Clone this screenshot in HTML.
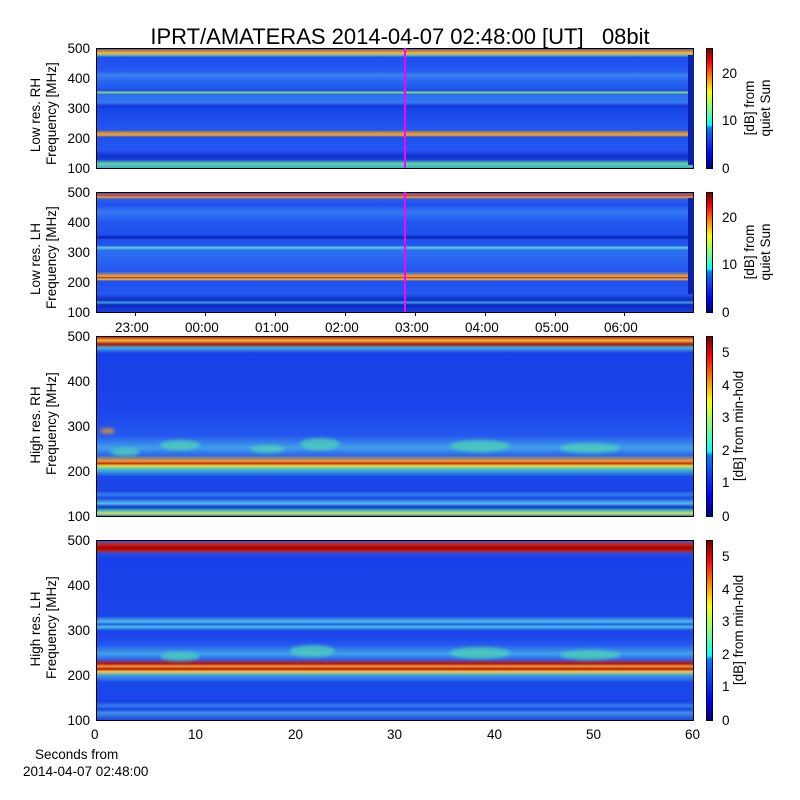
<!DOCTYPE html>
<html><head><meta charset="utf-8"><style>
body{margin:0;width:800px;height:800px;background:#fff;position:relative;font-family:"Liberation Sans","DejaVu Sans",sans-serif;overflow:hidden}
.a{position:absolute}
.p{position:absolute;left:96px;width:598px;border:1px solid #000;box-sizing:border-box}
.cb{position:absolute;left:706px;width:7px;border:1px solid #000;box-sizing:border-box;background:linear-gradient(to top,#00007f,#0000ff 11%,#007fff 34%,#00ffff 36%,#7fff7f 50%,#ffff00 64%,#ff7f00 77%,#ff0000 89%,#7f0000)}
.t{position:absolute;font-size:13.5px;color:#000;line-height:15px}
.y{position:absolute;font-size:13.5px;left:40px;width:50px;text-align:right;line-height:15px}
.yl{position:absolute;font-size:13.5px;transform:rotate(-90deg);transform-origin:center;text-align:center;white-space:nowrap;line-height:16px}
.tk{position:absolute;background:#000}
.blob{position:absolute;border-radius:50%;background:#50d8b0;opacity:.7;filter:blur(1.5px)}
</style></head><body>
<div class="a" style="left:0;width:800px;top:24px;text-align:center;font-size:22px;">IPRT/AMATERAS 2014-04-07 02:48:00 [UT] &nbsp; 08bit</div>

<!-- panel 1 -->
<div class="p" style="top:48px;height:121px;background:linear-gradient(to bottom,#2a60f0 0%,#f08a20 2%,#e8c030 4%,#40b0e0 5.5%,#2050f0 7%,#2458f0 18%,#3a80f2 22%,#2a66f0 27%,#1e50ee 35%,#90e060 36.5%,#2a70f2 38%,#3478f2 45%,#1038d8 48%,#1a48ec 52%,#2356f0 68%,#f09a20 71%,#e0a030 72.5%,#1e50ee 74%,#2458f0 85%,#1030d0 90%,#1a40e0 93%,#60d0a0 96%,#40b0d0 100%)"></div>
<div class="a" style="left:688px;top:55px;width:6px;height:110px;background:#0a20a8"></div>
<div class="a" style="left:404px;top:48px;width:2px;height:120px;background:#ff00ff"></div>
<!-- panel 2 -->
<div class="p" style="top:192px;height:121px;background:linear-gradient(to bottom,#3070f0 0%,#e04020 2%,#e0a030 3.5%,#2a60f0 5%,#2050f0 10%,#3478f2 16%,#2458f0 24%,#1e50ee 35%,#0820b0 37.5%,#2050f0 39%,#2254f0 44%,#60d0d0 46%,#2a70f2 48%,#2a66f0 55%,#2456f0 66%,#e8b030 70%,#e02020 71%,#e0c040 72.5%,#2050f0 74%,#2458f0 85%,#0a28c0 90%,#40a0e0 92%,#0a28c0 94%,#1a40e0 100%)"></div>
<div class="a" style="left:688px;top:198px;width:6px;height:96px;background:#0a20a8"></div>
<div class="a" style="left:404px;top:192px;width:2px;height:120px;background:#ff00ff"></div>
<!-- panel 3 -->
<div class="p" style="top:336px;height:181px;background:linear-gradient(to bottom,#c02010 0%,#f0c030 2%,#b01010 4%,#40b0e0 6%,#1840e8 9%,#1a44ea 40%,#2458f0 55%,#40a0e8 62%,#2a66f0 66%,#f0a020 69.5%,#d02010 70.5%,#e0e040 72%,#40c0d0 74%,#1a48ea 78%,#1a44ea 86%,#3080e8 88%,#1a44ea 90%,#50c0e0 93%,#1030d0 95%,#40c0c0 97%,#e0e040 98.5%,#3080e8 100%)"></div>
<div class="blob" style="left:110px;top:448px;width:30px;height:8px"></div>
<div class="blob" style="left:160px;top:440px;width:40px;height:10px"></div>
<div class="blob" style="left:250px;top:445px;width:35px;height:8px"></div>
<div class="blob" style="left:300px;top:438px;width:40px;height:12px"></div>
<div class="blob" style="left:450px;top:440px;width:60px;height:12px"></div>
<div class="blob" style="left:560px;top:443px;width:60px;height:10px"></div>
<div class="blob" style="left:100px;top:428px;width:15px;height:6px;background:#f0a020"></div>
<!-- panel 4 -->
<div class="p" style="top:540px;height:181px;background:linear-gradient(to bottom,#2a60f0 0%,#d02010 2%,#a00000 4%,#c02010 5.5%,#2050f0 7%,#1840e8 10%,#1a44ea 42%,#50c0e0 45%,#2060f0 46.5%,#50c0e0 48%,#1a48ea 50%,#1a44ea 53%,#2458f0 58%,#40a0e8 63%,#2a66f0 66%,#c01010 68.5%,#e0a030 70%,#c01010 71.5%,#f0d040 73%,#40a0e0 75%,#1a48ea 79%,#1a44ea 90%,#3080e8 92%,#1a44ea 94%,#4090e0 96%,#1a44ea 100%)"></div>
<div class="blob" style="left:160px;top:652px;width:40px;height:9px"></div>
<div class="blob" style="left:290px;top:645px;width:45px;height:12px"></div>
<div class="blob" style="left:450px;top:647px;width:60px;height:12px"></div>
<div class="blob" style="left:560px;top:650px;width:60px;height:10px"></div>

<!-- colorbars -->
<div class="cb" style="top:48px;height:121px"></div>
<div class="cb" style="top:192px;height:121px"></div>
<div class="cb" style="top:336px;height:181px"></div>
<div class="cb" style="top:540px;height:181px"></div>

<!-- y ticks -->
<div class="y" style="top:41px">500</div><div class="y" style="top:71px">400</div><div class="y" style="top:101px">300</div><div class="y" style="top:131px">200</div><div class="y" style="top:161px">100</div>
<div class="y" style="top:185px">500</div><div class="y" style="top:215px">400</div><div class="y" style="top:245px">300</div><div class="y" style="top:275px">200</div><div class="y" style="top:305px">100</div>
<div class="y" style="top:329px">500</div><div class="y" style="top:374px">400</div><div class="y" style="top:419px">300</div><div class="y" style="top:464px">200</div><div class="y" style="top:509px">100</div>
<div class="y" style="top:533px">500</div><div class="y" style="top:578px">400</div><div class="y" style="top:623px">300</div><div class="y" style="top:668px">200</div><div class="y" style="top:713px">100</div>

<div class="yl" style="left:-6px;top:99px;width:100px">Low res. RH<br>Frequency [MHz]</div>
<div class="yl" style="left:-6px;top:243px;width:100px">Low res. LH<br>Frequency [MHz]</div>
<div class="yl" style="left:-6px;top:409px;width:100px">High res. RH<br>Frequency [MHz]</div>
<div class="yl" style="left:-6px;top:613px;width:100px">High res. LH<br>Frequency [MHz]</div>

<!-- time labels -->
<div class="t" style="left:115px;top:320px">23:00</div><div class="t" style="left:185px;top:320px">00:00</div><div class="t" style="left:255px;top:320px">01:00</div><div class="t" style="left:325px;top:320px">02:00</div><div class="t" style="left:395px;top:320px">03:00</div><div class="t" style="left:465px;top:320px">04:00</div><div class="t" style="left:535px;top:320px">05:00</div><div class="t" style="left:604px;top:320px">06:00</div>
<div class="tk" style="left:135px;top:312px;width:1px;height:4px"></div><div class="tk" style="left:205px;top:312px;width:1px;height:4px"></div><div class="tk" style="left:275px;top:312px;width:1px;height:4px"></div><div class="tk" style="left:345px;top:312px;width:1px;height:4px"></div><div class="tk" style="left:415px;top:312px;width:1px;height:4px"></div><div class="tk" style="left:485px;top:312px;width:1px;height:4px"></div><div class="tk" style="left:555px;top:312px;width:1px;height:4px"></div><div class="tk" style="left:624px;top:312px;width:1px;height:4px"></div>

<div class="t" style="left:91px;top:727px">0</div><div class="t" style="left:188px;top:727px">10</div><div class="t" style="left:288px;top:727px">20</div><div class="t" style="left:387px;top:727px">30</div><div class="t" style="left:487px;top:727px">40</div><div class="t" style="left:586px;top:727px">50</div><div class="t" style="left:685px;top:727px">60</div>
<div class="t" style="left:35px;top:747px">Seconds from</div>
<div class="t" style="left:23px;top:764px">2014-04-07 02:48:00</div>

<!-- colorbar ticks -->
<div class="t" style="left:722px;top:66px">20</div><div class="t" style="left:722px;top:113px">10</div><div class="t" style="left:722px;top:161px">0</div>
<div class="t" style="left:722px;top:210px">20</div><div class="t" style="left:722px;top:257px">10</div><div class="t" style="left:722px;top:305px">0</div>
<div class="t" style="left:722px;top:345px">5</div><div class="t" style="left:722px;top:378px">4</div><div class="t" style="left:722px;top:410px">3</div><div class="t" style="left:722px;top:443px">2</div><div class="t" style="left:722px;top:475px">1</div><div class="t" style="left:722px;top:509px">0</div>
<div class="t" style="left:722px;top:549px">5</div><div class="t" style="left:722px;top:582px">4</div><div class="t" style="left:722px;top:614px">3</div><div class="t" style="left:722px;top:647px">2</div><div class="t" style="left:722px;top:679px">1</div><div class="t" style="left:722px;top:713px">0</div>

<div class="yl" style="left:708px;top:92px;width:100px">[dB] from<br>quiet Sun</div>
<div class="yl" style="left:708px;top:236px;width:100px">[dB] from<br>quiet Sun</div>
<div class="yl" style="left:679px;top:418px;width:120px">[dB] from min-hold</div>
<div class="yl" style="left:679px;top:622px;width:120px">[dB] from min-hold</div>
</body></html>
